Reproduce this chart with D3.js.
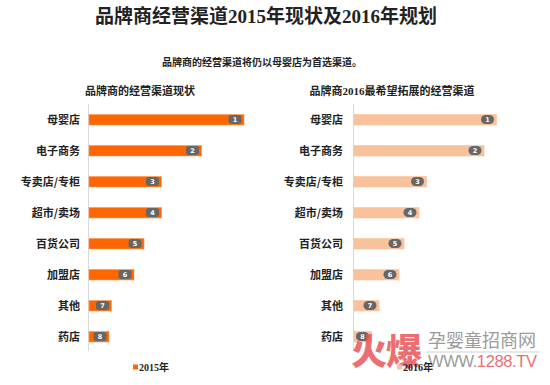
<!DOCTYPE html>
<html><head><meta charset="utf-8">
<script src="https://cdn.jsdelivr.net/npm/d3@7"></script>
<style>body{margin:0;background:#fff}svg{display:block}</style>
</head><body>
<script>
const categories = ["母婴店","电子商务","专卖店/专柜","超市/卖场","百货公司","加盟店","其他","药店"];
const values2015 = [62,45,29,29,22,18,9,8];
const values2016 = [57,52,29,26,20,18,10,7];
const ranks = [1,2,3,4,5,6,7,8];
const mainTitle = "品牌商经营渠道2015年现状及2016年规划";
const subTitle = "品牌商的经营渠道将仍以母婴店为首选渠道。";
const panelTitles = ["品牌商的经营渠道现状","品牌商2016最希望拓展的经营渠道"];
const legendLabels = ["2015年","2016年"];

const W=550,H=385;
const svg=d3.select("body").append("svg").attr("width",W).attr("height",H);
const cjk='"Noto Sans CJK SC", sans-serif';
const serifMix='"Liberation Serif","Noto Sans CJK SC", serif';

svg.append("text").attr("x",266).attr("y",23).attr("text-anchor","middle")
  .attr("font-family",serifMix).attr("font-weight","bold").attr("font-size",19).attr("fill","#222").text(mainTitle);
svg.append("text").attr("x",262).attr("y",66).attr("text-anchor","middle")
  .attr("font-family",cjk).attr("font-weight","bold").attr("font-size",10).attr("fill","#222").text(subTitle);

const y=d3.scalePoint().domain(categories).range([104,352]).padding(0.5);
const x=d3.scaleLinear().domain([0,100]).range([0,250]);

const panels=[
  {x0:89, labelX:80, title:panelTitles[0], tx:140, vals:values2015, color:"#fd6600", edge:"#f79a5a", rx:3, leg:legendLabels[0], legX:133},
  {x0:354, labelX:343, title:panelTitles[1], tx:392, vals:values2016, color:"#f9c19c", edge:"#f9c19c", rx:4.5, leg:legendLabels[1], legX:397}
];

panels.forEach(p=>{
  const g=svg.append("g");
  g.append("text").attr("x",p.tx).attr("y",95).attr("text-anchor","middle")
    .attr("font-family",serifMix).attr("font-weight","bold").attr("font-size",11).attr("fill","#222").text(p.title);
  g.append("line").attr("x1",p.x0-0.5).attr("x2",p.x0-0.5).attr("y1",104).attr("y2",351)
    .attr("stroke","#d9d9d9").attr("stroke-width",1);
  const row=g.selectAll(".row").data(categories).join("g");
  row.append("rect").attr("x",p.x0).attr("y",d=>y(d)-5).attr("height",10.5)
    .attr("width",(d,i)=>x(p.vals[i])).attr("fill",p.color).attr("stroke",p.edge).attr("stroke-width",0.6);
  row.append("rect").attr("x",(d,i)=>p.x0+x(p.vals[i])-15.5).attr("y",d=>y(d)-4.5)
    .attr("width",13).attr("height",9).attr("rx",p.rx).attr("fill","#666");
  row.append("text").attr("x",(d,i)=>p.x0+x(p.vals[i])-9).attr("y",d=>y(d)+2.5)
    .attr("text-anchor","middle").attr("font-family","DejaVu Sans").attr("font-weight","bold")
    .attr("font-size",6.5).attr("fill","#fff").text((d,i)=>ranks[i]);
  row.append("text").attr("x",p.labelX).attr("y",d=>y(d)+4).attr("text-anchor","end")
    .attr("font-family",cjk).attr("font-weight","bold").attr("font-size",11).attr("fill","#222").text(d=>d);
});

// watermark
const wm=svg.append("g").attr("opacity",0.85);
wm.append("text").attr("x",351).attr("y",365).attr("font-family",cjk).attr("font-weight","900")
  .attr("font-size",36).attr("fill","#e8555a").attr("letter-spacing",-1).text("火爆");
wm.append("text").attr("x",428).attr("y",347).attr("font-family",cjk)
  .attr("font-size",18).attr("fill","#8a8a8a").text("孕婴童招商网");
wm.append("line").attr("x1",426).attr("x2",540).attr("y1",352).attr("y2",352).attr("stroke","#bbb").attr("stroke-width",0.8);
const url=wm.append("text").attr("x",428).attr("y",367).attr("font-family","Liberation Sans")
  .attr("font-size",16.5).attr("textLength",109);
url.append("tspan").attr("fill","#8a8a8a").text("WWW.");
url.append("tspan").attr("fill","#e8555a").text("1288.TV");

// legends
panels.forEach(p=>{
  svg.append("rect").attr("x",p.legX).attr("y",364.5).attr("width",5).attr("height",5).attr("fill",p.color);
  svg.append("text").attr("x",p.legX+6).attr("y",371).attr("font-family",serifMix).attr("font-weight","bold")
    .attr("font-size",10).attr("fill","#222").text(p.leg);
});
</script>
</body></html>
